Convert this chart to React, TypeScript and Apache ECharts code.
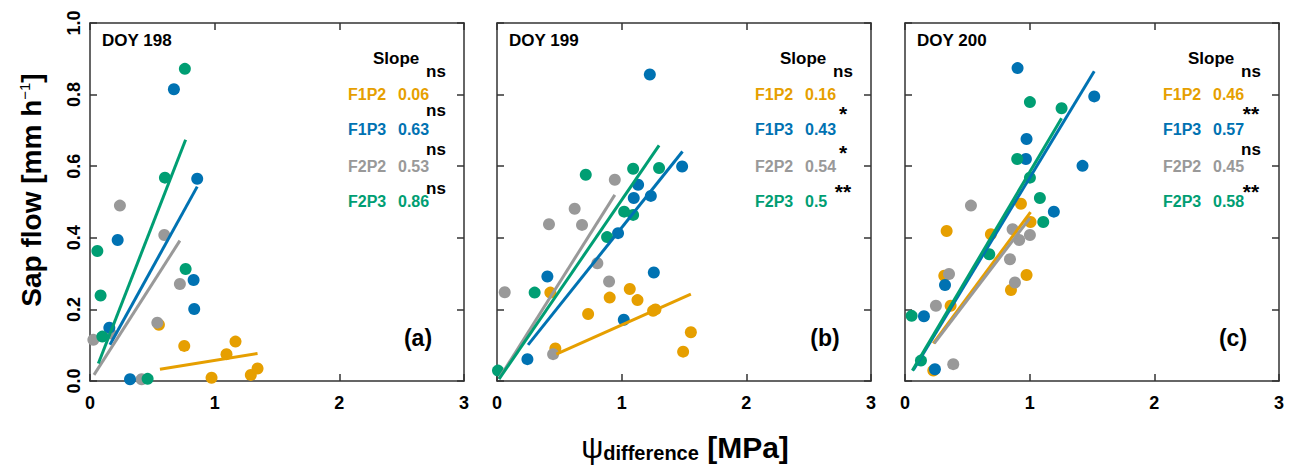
import React, { useEffect, useRef } from "react";
import * as echarts from "echarts";

const GROUPS = ["F1P2", "F1P3", "F2P2", "F2P3"];
const COLORS = ["#E69F00", "#0072B2", "#999999", "#009E73"];
const DOYS = ["DOY 198", "DOY 199", "DOY 200"];
const TAGS = ["(a)", "(b)", "(c)"];

// DOY 198 points [psi difference, sap flow]
const d198_F1P2 = [[0.553, 0.157], [0.756, 0.098], [1.167, 0.11], [1.095, 0.075], [0.975, 0.009], [1.29, 0.017], [1.344, 0.035]];
const d198_F1P3 = [[0.673, 0.815], [0.86, 0.565], [0.222, 0.394], [0.831, 0.282], [0.836, 0.201], [0.155, 0.149], [0.321, 0.005]];
const d198_F2P2 = [[0.24, 0.49], [0.596, 0.408], [0.721, 0.271], [0.54, 0.163], [0.027, 0.115], [0.165, 0.133], [0.414, 0.005]];
const d198_F2P3 = [[0.761, 0.872], [0.601, 0.568], [0.059, 0.363], [0.767, 0.313], [0.085, 0.239], [0.099, 0.124], [0.462, 0.006]];
// DOY 199
const d199_F1P2 = [[0.428, 0.247], [0.468, 0.091], [0.731, 0.187], [0.904, 0.233], [1.065, 0.257], [1.127, 0.226], [1.252, 0.196], [1.271, 0.2], [1.555, 0.136], [1.493, 0.082]];
const d199_F1P3 = [[1.226, 0.856], [1.485, 0.599], [1.132, 0.548], [1.097, 0.511], [1.234, 0.517], [0.971, 0.413], [0.404, 0.292], [1.258, 0.303], [1.017, 0.171], [0.244, 0.061]];
const d199_F2P2 = [[0.945, 0.562], [0.623, 0.481], [0.417, 0.438], [0.682, 0.436], [0.805, 0.329], [0.899, 0.278], [0.062, 0.248], [0.45, 0.075]];
const d199_F2P3 = [[0.712, 0.576], [1.092, 0.593], [1.3, 0.595], [1.02, 0.473], [1.092, 0.464], [0.883, 0.402], [0.302, 0.247], [0.008, 0.029]];
// DOY 200
const d200_F1P2 = [[0.334, 0.419], [0.93, 0.495], [0.689, 0.41], [1.007, 0.444], [0.315, 0.294], [0.366, 0.21], [0.975, 0.296], [0.85, 0.254], [0.227, 0.029]];
const d200_F1P3 = [[0.903, 0.874], [1.518, 0.795], [0.975, 0.676], [0.97, 0.62], [1.424, 0.601], [1.194, 0.473], [0.321, 0.268], [0.152, 0.181], [0.24, 0.033]];
const d200_F2P2 = [[0.529, 0.49], [0.863, 0.424], [0.916, 0.394], [1.002, 0.408], [0.842, 0.34], [0.353, 0.299], [0.882, 0.275], [0.248, 0.21], [0.387, 0.047]];
const d200_F2P3 = [[1.002, 0.779], [1.256, 0.762], [0.9, 0.62], [1.002, 0.568], [1.082, 0.511], [1.109, 0.444], [0.676, 0.354], [0.053, 0.182], [0.128, 0.057]];

// Regression line end points
const fit198 = [
  [[0.561, 0.033], [1.344, 0.077]],
  [[0.16, 0.101], [0.86, 0.543]],
  [[0.032, 0.017], [0.721, 0.392]],
  [[0.067, 0.049], [0.767, 0.674]],
];
const fit199 = [
  [[0.476, 0.075], [1.555, 0.243]],
  [[0.249, 0.101], [1.488, 0.641]],
  [[0.016, 0.007], [0.945, 0.52]],
  [[0.016, 0.005], [1.3, 0.658]],
];
const fit200 = [
  [[0.227, 0.105], [1.007, 0.472]],
  [[0.067, 0.031], [1.518, 0.865]],
  [[0.235, 0.105], [1.002, 0.455]],
  [[0.059, 0.029], [1.256, 0.734]],
];

const slopes198 = ["0.06", "0.63", "0.53", "0.86"];
const slopes199 = ["0.16", "0.43", "0.54", "0.5"];
const slopes200 = ["0.46", "0.57", "0.45", "0.58"];
const sig198 = ["ns", "ns", "ns", "ns"];
const sig199 = ["ns", "*", "*", "**"];
const sig200 = ["ns", "**", "ns", "**"];

const X_MIN = 0, X_MAX = 3, X_STEP = 1;
const Y_MIN = 0, Y_MAX = 1, Y_STEP = 0.2;

const POINTS = [
  [d198_F1P2, d198_F1P3, d198_F2P2, d198_F2P3],
  [d199_F1P2, d199_F1P3, d199_F2P2, d199_F2P3],
  [d200_F1P2, d200_F1P3, d200_F2P2, d200_F2P3],
];
const FITS = [fit198, fit199, fit200];
const SLOPES = [slopes198, slopes199, slopes200];
const SIGS = [sig198, sig199, sig200];

const FONT = "'Liberation Sans', Arial, Helvetica, sans-serif";
const PANEL_LEFT = [90, 497, 905];
const PANEL_TOP = 23;
const PANEL_W = 374;
const PANEL_H = 358;
const FRAME = "#333";

function buildOption() {
  const grid: any[] = [];
  const xAxis: any[] = [];
  const yAxis: any[] = [];
  const series: any[] = [];
  const graphic: any[] = [];

  PANEL_LEFT.forEach((L, p) => {
    grid.push({ left: L, top: PANEL_TOP, width: PANEL_W, height: PANEL_H, containLabel: false });
    const axisCommon = {
      min: X_MIN, max: X_MAX, interval: X_STEP, type: "value",
      axisLine: { show: true, onZero: false, lineStyle: { color: FRAME, width: 1.5 } },
      axisTick: { show: true, inside: true, length: 7, lineStyle: { color: FRAME, width: 1.5 } },
      splitLine: { show: false },
      gridIndex: p,
    };
    xAxis.push({
      ...axisCommon, position: "bottom",
      axisLabel: { show: true, margin: 13, fontSize: 18, fontWeight: "bold", color: "#000", fontFamily: FONT, formatter: (v: number) => String(v) },
    });
    xAxis.push({ ...axisCommon, position: "top", axisLabel: { show: false } });
    const yCommon = {
      ...axisCommon, min: Y_MIN, max: Y_MAX, interval: Y_STEP,
    };
    yAxis.push({
      ...yCommon, position: "left",
      axisLabel: { show: p === 0, rotate: 90, margin: 7, fontSize: 18, fontWeight: "bold", color: "#000", fontFamily: FONT, formatter: (v: number) => v.toFixed(1) },
    });
    yAxis.push({ ...yCommon, position: "right", axisLabel: { show: false } });

    // regression lines
    FITS[p].forEach((seg, g) => {
      series.push({
        type: "line", xAxisIndex: 2 * p, yAxisIndex: 2 * p, data: seg,
        showSymbol: false, symbol: "none", silent: true,
        lineStyle: { color: COLORS[g], width: 3 },
      });
    });
    // points: orange, gray, blue, green draw order
    [0, 2, 1, 3].forEach((g) => {
      series.push({
        type: "scatter", xAxisIndex: 2 * p, yAxisIndex: 2 * p, data: POINTS[p][g],
        symbolSize: 12, clip: false,
        itemStyle: { color: COLORS[g], opacity: 1 },
      });
    });

    // annotations
    graphic.push({ type: "text", x: L + 12, y: 40, style: { text: DOYS[p], fontSize: 17, fontWeight: "bold", fill: "#000", fontFamily: FONT, align: "left", verticalAlign: "middle" } });
    graphic.push({ type: "text", x: L + 283, y: 58, style: { text: "Slope", fontSize: 17, fontWeight: "bold", fill: "#000", fontFamily: FONT, align: "left", verticalAlign: "middle" } });
    const rowY = [94, 129.5, 166, 201];
    const sigY = [71.5, 110.5, 149.5, 188.5];
    GROUPS.forEach((name, g) => {
      graphic.push({ type: "text", x: L + 258, y: rowY[g], style: { text: name, fontSize: 16, fontWeight: "bold", fill: COLORS[g], fontFamily: FONT, align: "left", verticalAlign: "middle" } });
      graphic.push({ type: "text", x: L + 308, y: rowY[g], style: { text: SLOPES[p][g], fontSize: 16, fontWeight: "bold", fill: COLORS[g], fontFamily: FONT, align: "left", verticalAlign: "middle" } });
      const s = SIGS[p][g];
      const star = s.indexOf("*") >= 0;
      graphic.push({ type: "text", x: L + 346, y: sigY[g] + (star ? 3 : 0), style: { text: s, fontSize: star ? 21 : 17, fontWeight: "bold", fill: "#000", fontFamily: FONT, align: "center", verticalAlign: "middle" } });
    });
    graphic.push({ type: "text", x: L + 328, y: 338, style: { text: TAGS[p], fontSize: 23, fontWeight: "bold", fill: "#000", fontFamily: FONT, align: "center", verticalAlign: "middle" } });
  });

  // axis titles
  graphic.push({
    type: "text", x: 31, y: 190, rotation: Math.PI / 2,
    style: {
      text: "{a|Sap flow [mm h}{s|\u22121}{a|]}",
      align: "center", verticalAlign: "middle", fill: "#000", fontFamily: FONT,
      rich: {
        a: { fontSize: 28, fontWeight: "bold", fill: "#000", fontFamily: FONT },
        s: { fontSize: 15, fontWeight: "normal", fill: "#000", fontFamily: FONT, verticalAlign: "top" },
      },
    },
  });
  graphic.push({
    type: "text", x: 685, y: 447,
    style: {
      text: "{p|\u03C8}{d|difference}{u| [MPa]}",
      align: "center", verticalAlign: "middle", fill: "#000", fontFamily: FONT,
      rich: {
        p: { fontSize: 31, fontWeight: "normal", fill: "#000", fontFamily: FONT },
        d: { fontSize: 20, fontWeight: "bold", fill: "#000", fontFamily: FONT, verticalAlign: "bottom" },
        u: { fontSize: 30, fontWeight: "bold", fill: "#000", fontFamily: FONT },
      },
    },
  });

  return {
    animation: false,
    backgroundColor: "#fff",
    textStyle: { fontFamily: FONT },
    grid, xAxis, yAxis, series, graphic,
  };
}

export default function App() {
  const ref = useRef<HTMLDivElement>(null);
  useEffect(() => {
    if (!ref.current) return;
    const chart = echarts.init(ref.current, null, { renderer: "svg" });
    chart.setOption(buildOption() as any);
    return () => chart.dispose();
  }, []);
  return <div ref={ref} style={{ position: "fixed", left: 0, top: 0, width: 1292, height: 466, background: "#fff" }} />;
}
